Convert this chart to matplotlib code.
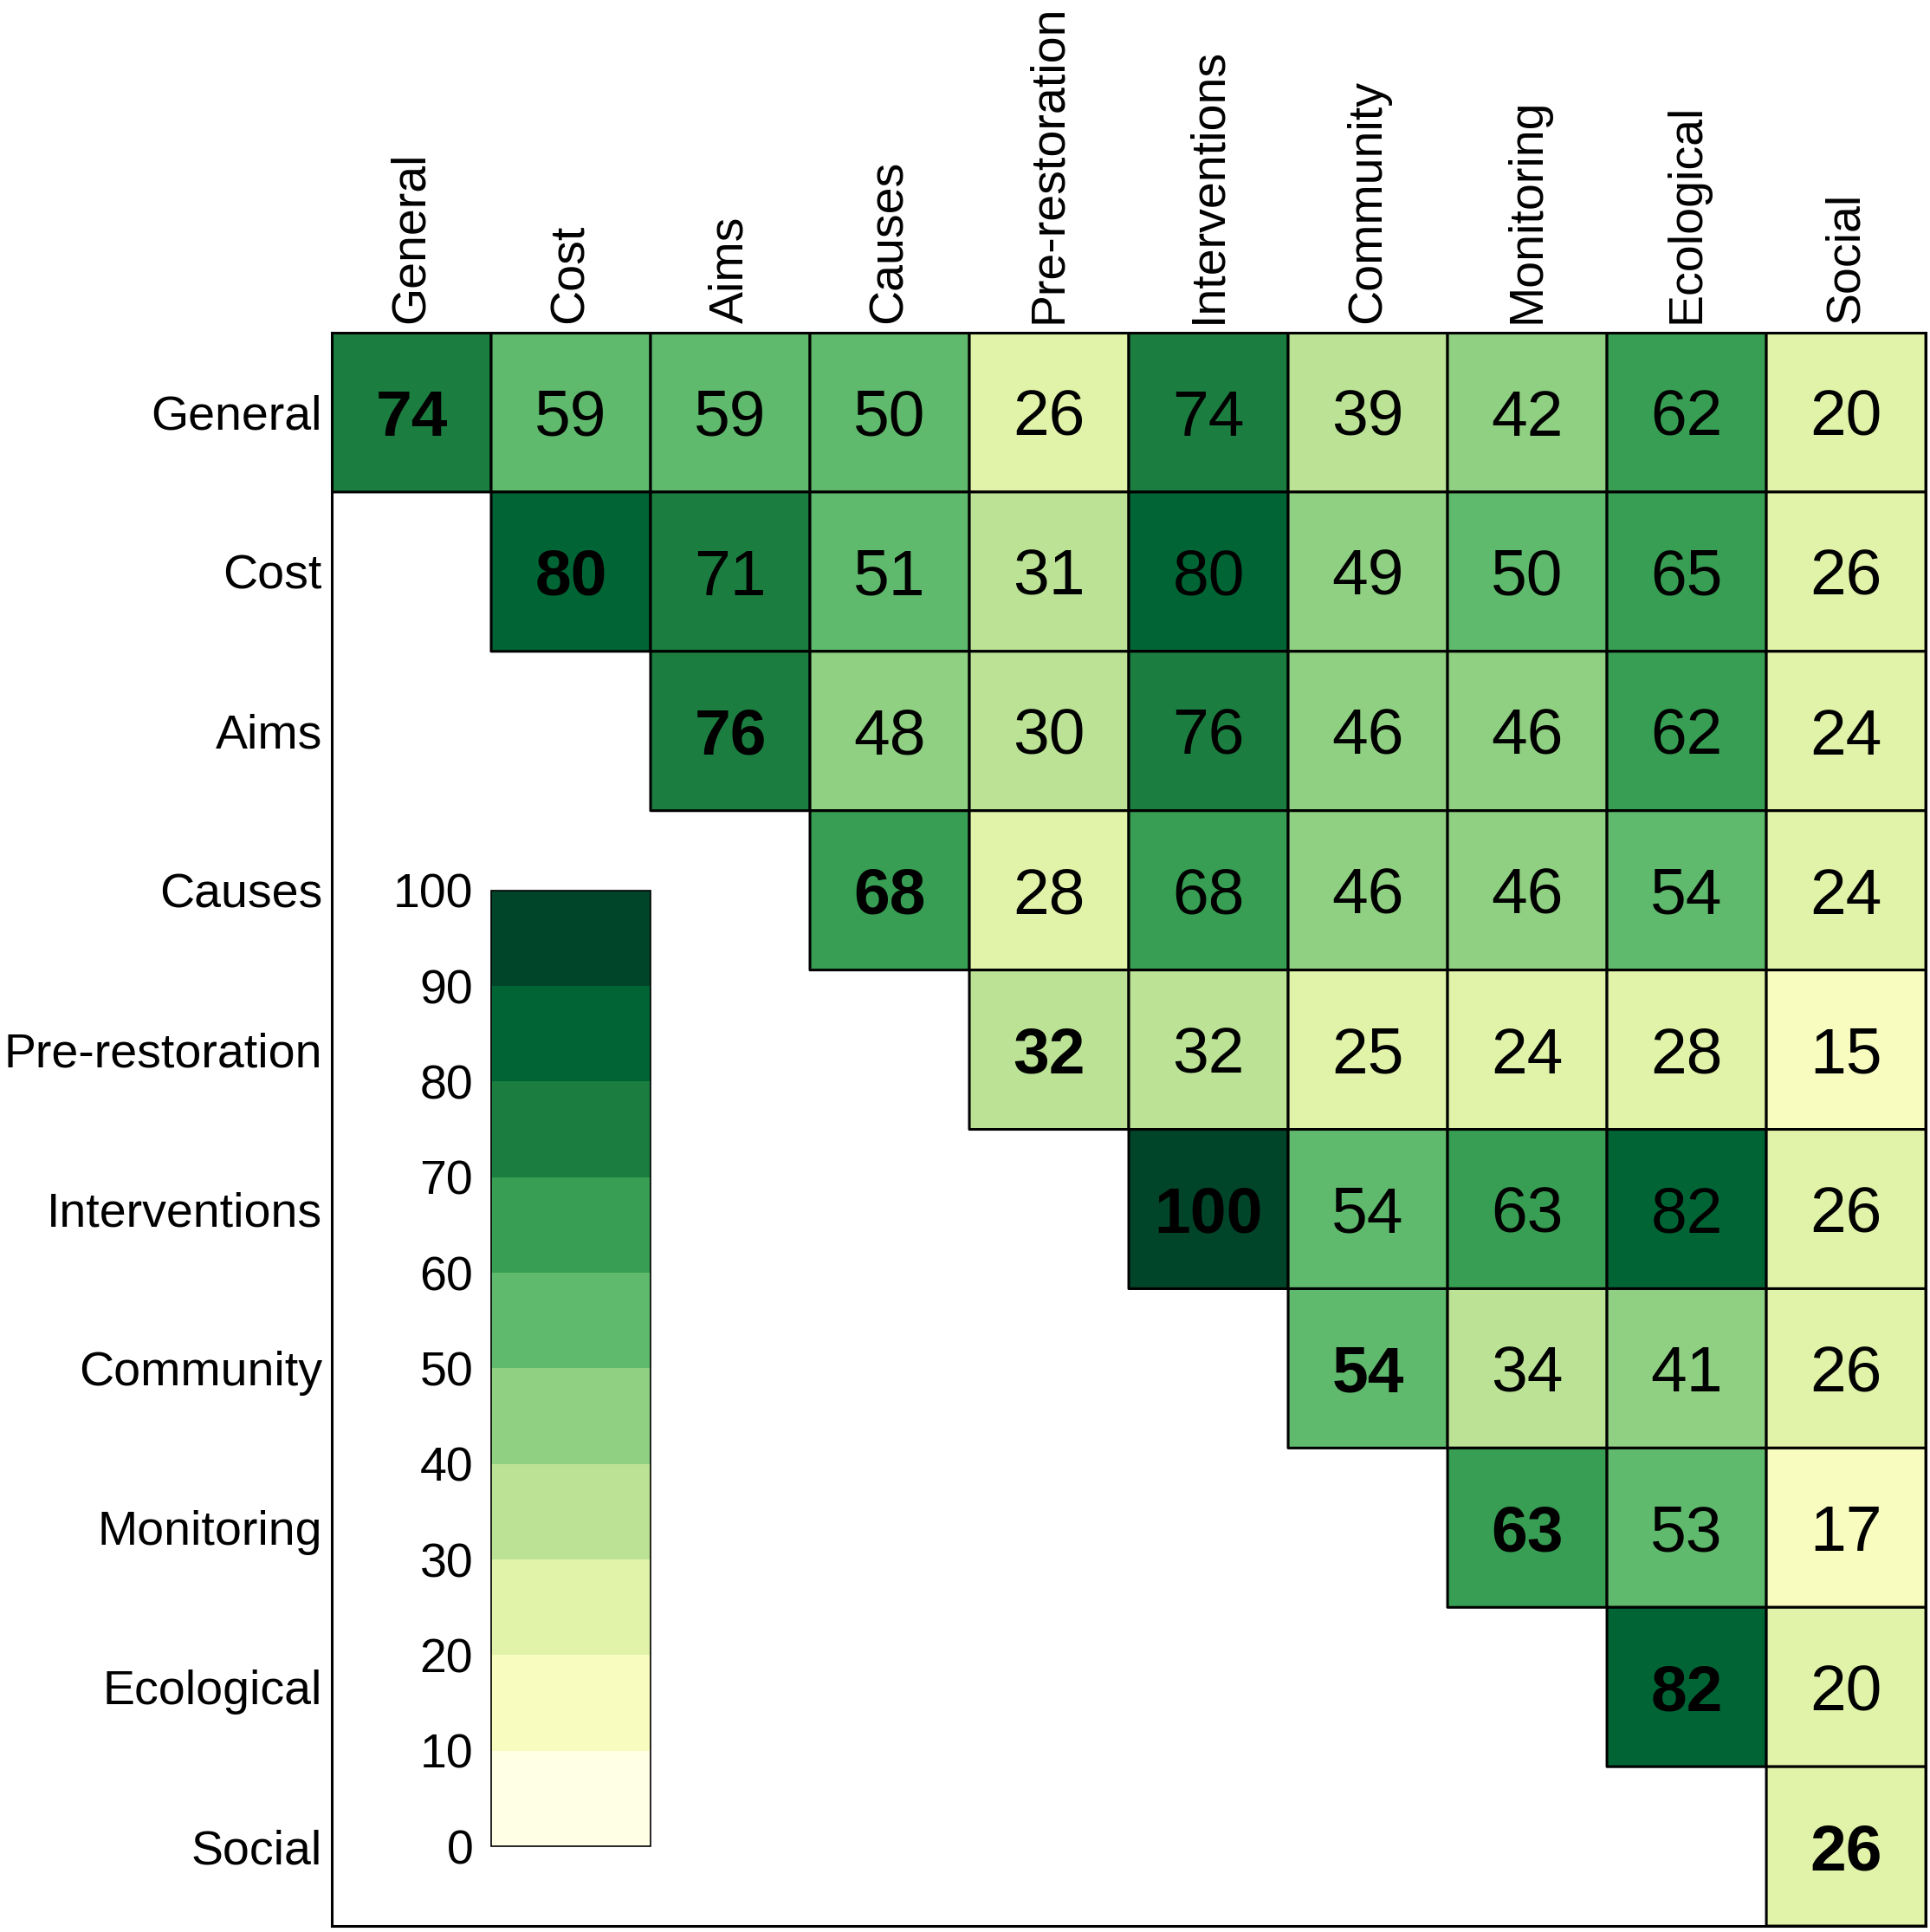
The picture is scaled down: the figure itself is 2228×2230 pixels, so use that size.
import numpy as np
import matplotlib.pyplot as plt
from matplotlib.colors import BoundaryNorm

plt.rcParams['font.family'] = ['Liberation Sans', 'DejaVu Sans']

labels = ["General", "Cost", "Aims", "Causes", "Pre-restoration",
          "Interventions", "Community", "Monitoring", "Ecological", "Social"]

# upper triangle, each row starts at the diagonal
general = [74, 59, 59, 50, 26, 74, 39, 42, 62, 20]
cost = [80, 71, 51, 31, 80, 49, 50, 65, 26]
aims = [76, 48, 30, 76, 46, 46, 62, 24]
causes = [68, 28, 68, 46, 46, 54, 24]
pre_restoration = [32, 32, 25, 24, 28, 15]
interventions = [100, 54, 63, 82, 26]
community = [54, 34, 41, 26]
monitoring = [63, 53, 17]
ecological = [82, 20]
social = [26]

rows = [general, cost, aims, causes, pre_restoration,
        interventions, community, monitoring, ecological, social]
levels = np.arange(0, 101, 10)

n = len(labels)
matrix = np.full((n, n), np.nan)
for i, row in enumerate(rows):
    matrix[i, i:] = row
masked = np.ma.masked_invalid(matrix)

cmap = plt.get_cmap('YlGn', 10)
norm = BoundaryNorm(levels, cmap.N)

fig = plt.figure(figsize=(22.28, 22.30), dpi=100)
ax = fig.add_axes([0.1719, 0.0031, 0.8259, 0.8247])
mesh = ax.pcolor(masked, cmap=cmap, norm=norm, edgecolors='black', linewidth=2.2)
ax.set_xlim(0, n)
ax.set_ylim(n, 0)

# baseline placed so the digits sit in the middle of the cell
for i in range(n):
    for j in range(i, n):
        ax.text(j + 0.5, i + 0.5 + 0.147, f"{int(matrix[i, j])}", ha='center', va='baseline',
                fontsize=54, fontweight='bold' if i == j else 'normal', color='black')

ax.xaxis.tick_top()
ax.set_xticks(np.arange(n) + 0.5)
ax.set_xticklabels(labels, rotation=90, ha='center', va='bottom')
ax.set_yticks(np.arange(n) + 0.5)
ax.set_yticklabels(labels)
ax.tick_params(length=0, pad=8, labelsize=40)
for s in ax.spines.values():
    s.set_linewidth(2.2)

# colour key sits in the empty lower triangle
cax = ax.inset_axes([0.1, 0.05, 0.1, 0.6])
cb = fig.colorbar(mesh, cax=cax, ticks=levels)
cb.ax.yaxis.set_ticks_position('left')
cb.ax.tick_params(length=0, labelsize=40, pad=15)
cb.outline.set_linewidth(1.2)

fig.savefig("out.png", dpi=100)
